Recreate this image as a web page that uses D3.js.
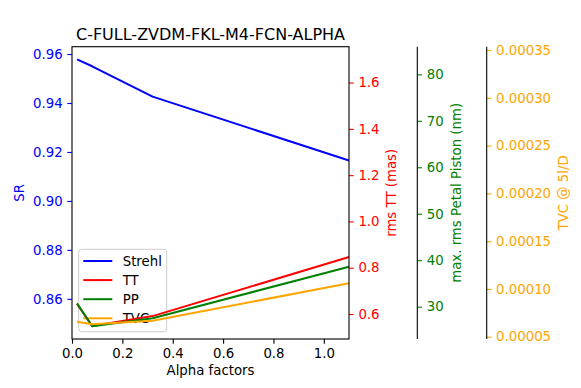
<!DOCTYPE html>
<html lang="en">
<head>
<meta charset="utf-8">
<script src="https://cdn.jsdelivr.net/npm/d3@7"></script>
<style>
  body { margin: 0; background: #fff; }
  svg text { font-family: "DejaVu Sans", sans-serif; }
</style>
</head>
<body>
<div id="my_dataviz"></div>
<script>
// values
var alpha  = [0.02, 0.08, 0.32, 1.1];
var strehl = [0.9578, 0.955, 0.9426, 0.9165];
var tt     = [0.643, 0.548, 0.591, 0.846];
var pp     = [30.7, 25.8, 27.5, 38.6];
var tvc    = [0.0000657, 0.000063, 0.0000667, 0.000106];

var xTicks   = [0, 0.2, 0.4, 0.6, 0.8, 1.0];
var srTicks  = [0.86, 0.88, 0.90, 0.92, 0.94, 0.96];
var ttTicks  = [0.6, 0.8, 1.0, 1.2, 1.4, 1.6];
var ppTicks  = [30, 40, 50, 60, 70, 80];
var tvcTicks = [0.00005, 0.0001, 0.00015, 0.0002, 0.00025, 0.0003, 0.00035];

var names  = ["Strehl", "TT", "PP", "TVC"];
var colors = ["blue", "red", "green", "orange"];

var W = 581, H = 388;
// plot box (note: "top" is reserved on window, so use a box object)
var box = {left: 72, right: 349, top: 46.7, bottom: 339};

var svg = d3.select("#my_dataviz").append("svg")
    .attr("width", W).attr("height", H);

var x = d3.scaleLinear().domain([0, 1.1]).range([box.left, box.right]);
var ySR  = d3.scaleLinear().domain([0.8436, 0.963]).range([box.bottom, box.top]);
var yTT  = d3.scaleLinear().domain([0.492, 1.755]).range([box.bottom, box.top]);
var yPP  = d3.scaleLinear().domain([23.04, 85.95]).range([box.bottom, box.top]);
var yTVC = d3.scaleLinear().domain([0.0000476, 0.0003535]).range([box.bottom, box.top]);

function styleAxis(g, col) {
    g.select(".domain").remove();
    g.selectAll(".tick line").attr("stroke", col).attr("stroke-width", 1.1);
    g.selectAll(".tick text").attr("fill", col).style("font-size", "13.3px");
}

function drawLine(vals, scale, col) {
    var line = d3.line()
        .x(function (d, i) { return x(alpha[i]); })
        .y(function (d) { return scale(d); });
    svg.append("path")
        .datum(vals)
        .attr("d", line)
        .attr("fill", "none")
        .attr("stroke", col)
        .attr("stroke-width", 2)
        .attr("stroke-linejoin", "round");
}

// Strehl line (host axes)
drawLine(strehl, ySR, "blue");

// legend (belongs to host axes, so the twin lines sit on top of it)
var leg = svg.append("g").attr("transform", "translate(78.7,249.3)");
leg.append("rect")
    .attr("width", 88).attr("height", 82.4)
    .attr("rx", 3)
    .attr("fill", "white").attr("fill-opacity", 0.8)
    .attr("stroke", "#cccccc").attr("stroke-width", 1);
names.forEach(function (n, i) {
    var yy = 11.7 + i * 19.1;
    leg.append("line")
        .attr("x1", 4.6).attr("x2", 33.6).attr("y1", yy).attr("y2", yy)
        .attr("stroke", colors[i]).attr("stroke-width", 2);
    leg.append("text")
        .attr("x", 44).attr("y", yy + 4.8)
        .style("font-size", "13.3px")
        .text(n);
});

drawLine(tt, yTT, "red");
drawLine(pp, yPP, "green");
drawLine(tvc, yTVC, "orange");

// x axis
var gx = svg.append("g").attr("transform", "translate(0," + box.bottom + ")")
    .call(d3.axisBottom(x).tickValues(xTicks).tickFormat(d3.format(".1f"))
        .tickSizeInner(4.7).tickPadding(4.7));
styleAxis(gx, "black");

// left SR axis
var gl = svg.append("g").attr("transform", "translate(" + box.left + ",0)")
    .call(d3.axisLeft(ySR).tickValues(srTicks).tickFormat(d3.format(".2f"))
        .tickSizeInner(4.7).tickPadding(4.7));
styleAxis(gl, "blue");

// right TT axis
var gt = svg.append("g").attr("transform", "translate(" + box.right + ",0)")
    .call(d3.axisRight(yTT).tickValues(ttTicks).tickFormat(d3.format(".1f"))
        .tickSizeInner(4.7).tickPadding(4.7));
styleAxis(gt, "red");

// offset PP axis
var ppX = 417.3;
var gp = svg.append("g").attr("transform", "translate(" + ppX + ",0)")
    .call(d3.axisRight(yPP).tickValues(ppTicks).tickFormat(d3.format("d"))
        .tickSizeInner(4.7).tickPadding(4.7));
styleAxis(gp, "green");

// offset TVC axis
var tvcX = 486.7;
var gv = svg.append("g").attr("transform", "translate(" + tvcX + ",0)")
    .call(d3.axisRight(yTVC).tickValues(tvcTicks).tickFormat(d3.format(".5f"))
        .tickSizeInner(4.7).tickPadding(4.7));
styleAxis(gv, "orange");

// spines
svg.append("rect")
    .attr("x", box.left).attr("y", box.top)
    .attr("width", box.right - box.left).attr("height", box.bottom - box.top)
    .attr("fill", "none").attr("stroke", "black").attr("stroke-width", 1.1);
[ppX, tvcX].forEach(function (sx) {
    svg.append("line")
        .attr("x1", sx).attr("x2", sx).attr("y1", box.top).attr("y2", box.bottom)
        .attr("stroke", "black").attr("stroke-width", 1.1);
});

// title and labels
svg.append("text")
    .attr("x", (box.left + box.right) / 2).attr("y", 40)
    .attr("text-anchor", "middle")
    .style("font-size", "16px")
    .text("C-FULL-ZVDM-FKL-M4-FCN-ALPHA");

svg.append("text")
    .attr("x", (box.left + box.right) / 2).attr("y", 375)
    .attr("text-anchor", "middle")
    .style("font-size", "13.3px")
    .text("Alpha factors");

var mid = (box.top + box.bottom) / 2;
var yLabels = [
    {t: "SR", x: 19.3, c: "blue"},
    {t: "rms TT (mas)", x: 391.7, c: "red"},
    {t: "max. rms Petal Piston (nm)", x: 456.7, c: "green"},
    {t: "TVC @ 5l/D", x: 563.3, c: "orange"}
];
yLabels.forEach(function (l) {
    svg.append("text")
        .attr("transform", "translate(" + l.x + "," + mid + ") rotate(-90)")
        .attr("text-anchor", "middle")
        .attr("dominant-baseline", "central")
        .attr("fill", l.c)
        .style("font-size", "13.3px")
        .text(l.t);
});
</script>
</body>
</html>
